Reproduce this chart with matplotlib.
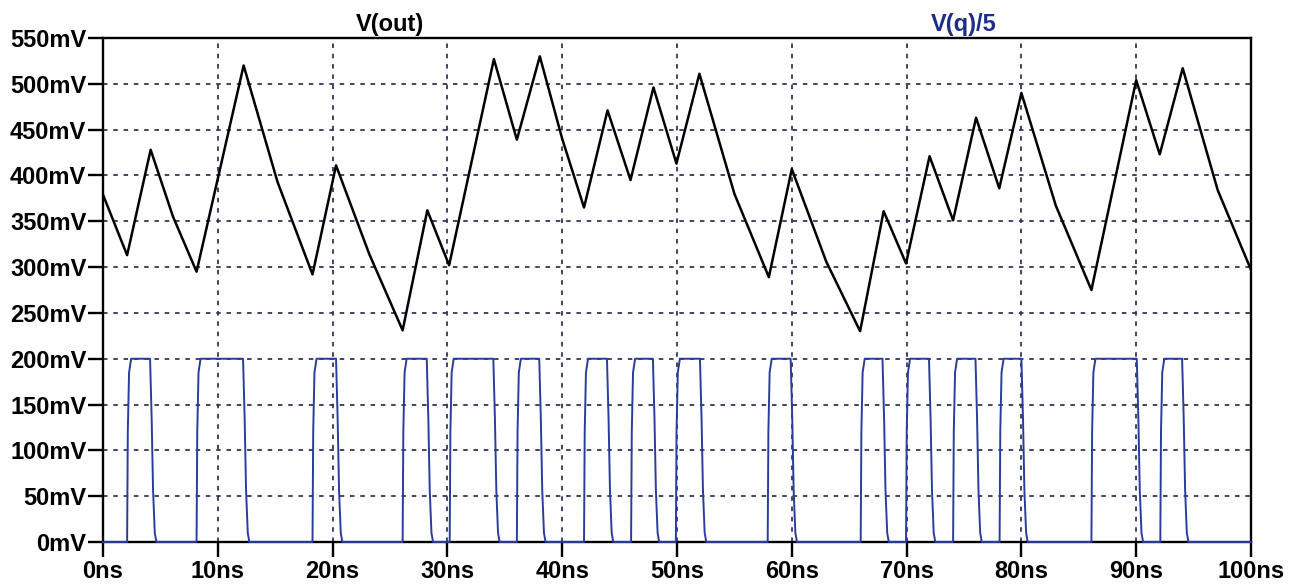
import matplotlib.pyplot as plt
import numpy as np

plt.rcParams['font.family'] = ['Liberation Sans', 'DejaVu Sans']

# V(out) corner points (ns, mV)
t_out = [0.0, 2.1, 4.15, 6.1, 8.15, 12.25, 15.2, 18.25, 20.3, 23.2, 26.1, 28.25,
         30.15, 34.05, 36.05, 38.05, 40.0, 41.9, 43.95, 45.95, 47.95, 49.95,
         51.95, 55.0, 58.0, 60.0, 63.0, 65.95, 68.0, 69.95, 72.0, 74.05, 76.05,
         78.07, 80.0, 83.0, 86.1, 90.0, 92.05, 94.05, 97.1, 100.0]
v_out = [379, 313, 428, 355, 295, 520, 393, 292, 411, 314, 231, 362,
         302, 527, 439, 530, 440, 365, 471, 395, 496, 413,
         511, 380, 289, 407, 306, 230, 361, 304, 421, 351, 463,
         386, 490, 367, 275, 504, 423, 517, 384, 297]

# V(q)/5 pulse edges (ns)
q_rise = [2.1, 8.15, 18.25, 26.1, 30.2, 36.05, 41.9, 46.0, 49.9, 57.9,
          66.0, 69.95, 74.05, 78.1, 86.1, 92.1]
q_fall = [4.1, 12.2, 20.3, 28.2, 34.0, 38.0, 43.9, 47.9, 52.0, 59.9,
          67.9, 71.95, 76.0, 80.0, 90.05, 94.0]
q_high = 200  # mV

# edge profiles: time offset (ns) and level (mV)
rise_dt = [0.0, 0.06, 0.17, 0.35]
rise_v = [0, 120, 185, 200]
fall_dt = [0.0, 0.14, 0.26, 0.41, 0.55]
fall_v = [200, 134, 57, 10, 0]

y_ticks = list(range(0, 551, 50))
y_labels = [f'{v}mV' for v in y_ticks]
x_ticks = list(range(0, 101, 10))
x_labels = [f'{v}ns' for v in x_ticks]

# build the q waveform from its edges
tq, vq = [0.0], [0]
for r, f in zip(q_rise, q_fall):
    tq += [r + d for d in rise_dt]
    vq += [v * q_high / 200 for v in rise_v]
    tq += [f + d for d in fall_dt]
    vq += [v * q_high / 200 for v in fall_v]
tq.append(100.0)
vq.append(0)

fig = plt.figure(figsize=(12.96, 5.86), dpi=100)
ax = fig.add_axes([103 / 1296, 44 / 586, 1148 / 1296, 504 / 586])

ax.plot(t_out, v_out, color='black', linewidth=1.8, zorder=3)
ax.plot(tq, vq, color='#2a3c9c', linewidth=1.4, zorder=4, clip_on=False)

ax.set_xlim(0, 100)
ax.set_ylim(0, 550)
ax.set_xticks(x_ticks)
ax.set_xticklabels(x_labels)
ax.set_yticks(y_ticks)
ax.set_yticklabels(y_labels)

ax.grid(True, color='#33375a', linestyle=(0, (2.5, 3.2)), linewidth=1.3)
ax.set_axisbelow(True)

for side in ['left', 'top', 'right', 'bottom']:
    ax.spines[side].set_linewidth(1.7)
    ax.spines[side].set_color('black')

ax.tick_params(axis='both', direction='out', length=11, width=1.7,
               labelsize=17, colors='black')
ax.tick_params(axis='y', pad=1)
ax.tick_params(axis='x', pad=2)
for lab in ax.get_xticklabels() + ax.get_yticklabels():
    lab.set_fontweight('bold')

ax.text(0.25, 1.014, 'V(out)', transform=ax.transAxes, ha='center',
        va='baseline', fontsize=17, fontweight='bold', color='black')
ax.text(0.75, 1.014, 'V(q)/5', transform=ax.transAxes, ha='center',
        va='baseline', fontsize=17, fontweight='bold', color='#1f2d8a')

fig.savefig('out.png', dpi=100)
